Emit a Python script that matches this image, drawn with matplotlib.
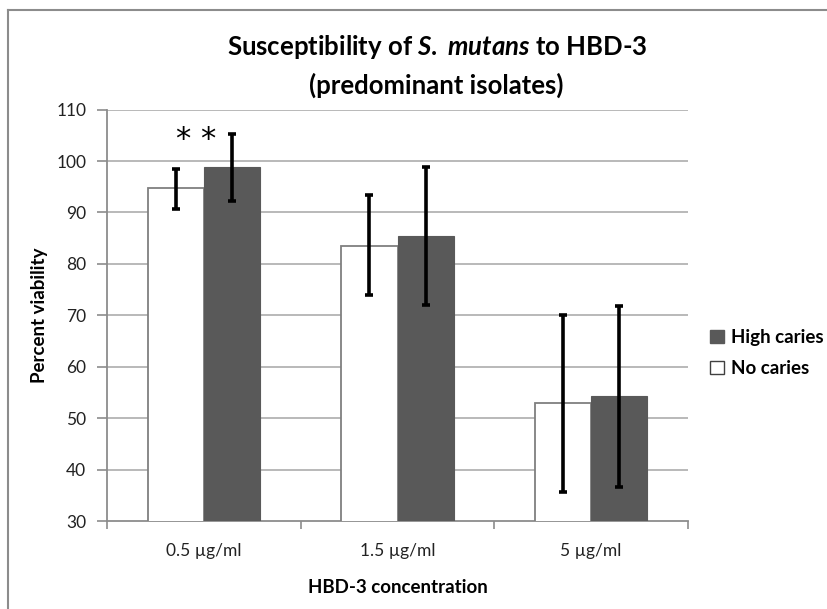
import matplotlib
matplotlib.use("Agg")
import matplotlib.pyplot as plt
import numpy as np
from matplotlib.lines import Line2D
from matplotlib.patches import Patch

categories = ["0.5 µg/ml", "1.5 µg/ml", "5 µg/ml"]
no_caries = [94.7, 83.5, 52.9]
no_caries_lo = [90.7, 73.9, 35.7]
no_caries_hi = [98.4, 93.3, 70.1]
high_caries = [98.9, 85.5, 54.4]
high_caries_lo = [92.2, 72.0, 36.6]
high_caries_hi = [105.3, 98.8, 71.8]
yticks = [30, 40, 50, 60, 70, 80, 90, 100, 110]

plt.rcParams['font.family'] = ['Lato', 'DejaVu Sans']
plt.rcParams['mathtext.fontset'] = 'custom'
plt.rcParams['mathtext.rm'] = 'Lato:bold'
plt.rcParams['mathtext.it'] = 'Lato:italic:bold'
plt.rcParams['mathtext.bf'] = 'Lato:bold'

fig = plt.figure(figsize=(8.27, 6.09), dpi=100)
ax = fig.add_axes([107/827, 1-521/609, (688-107)/827, (521-109.6)/609])

x = np.arange(len(categories))
w = 0.29
dark = '#595959'
edge = '#7f7f7f'

nc = np.array(no_caries); hc = np.array(high_caries)
err_nc = [nc - np.array(no_caries_lo), np.array(no_caries_hi) - nc]
err_hc = [hc - np.array(high_caries_lo), np.array(high_caries_hi) - hc]

ax.bar(x - w/2, nc, width=w, color='white', edgecolor=edge, linewidth=1.3, zorder=3)
ax.bar(x + w/2, hc, width=w, color=dark, edgecolor=dark, linewidth=0.8, zorder=3)
ax.errorbar(x - w/2, nc, yerr=err_nc, fmt='none', ecolor='black', elinewidth=2.6, capsize=3, capthick=2.6, zorder=4)
ax.errorbar(x + w/2, hc, yerr=err_hc, fmt='none', ecolor='black', elinewidth=2.6, capsize=3, capthick=2.6, zorder=4)

ax.text(x[0] - 0.04, 104.2, "* *", ha='center', va='center', fontsize=22, family='DejaVu Sans', zorder=5)

ax.set_ylim(30, 110)
ax.set_xlim(-0.5, 2.5)
ax.set_yticks(yticks)
ax.set_yticklabels([str(v) for v in yticks], fontsize=12.5, color='#222222')
for v in yticks[1:]:
    ax.axhline(v, color='#b3b3b3', linewidth=1.3, zorder=1)

ax.set_xticks(x)
ax.set_xticklabels(categories, fontsize=12.5, color='#222222')
ax.tick_params(axis='x', which='major', length=0, pad=16)
ax.set_xticks([-0.5, 0.5, 1.5, 2.5], minor=True)
ax.tick_params(axis='x', which='minor', length=6, color='#8c8c8c', width=1.2)
ax.tick_params(axis='y', length=7, color='#8c8c8c', width=1.2, pad=8)

for s in ['top', 'right']:
    ax.spines[s].set_visible(False)
for s in ['left', 'bottom']:
    ax.spines[s].set_color('#8c8c8c')
    ax.spines[s].set_linewidth(1.3)
    ax.spines[s].set_zorder(2)

ax.set_ylabel("Percent viability", fontsize=13.5, fontweight='bold', labelpad=6)
ax.set_xlabel("HBD-3 concentration", fontsize=13.5, fontweight='bold', labelpad=14)

fig.text(0.529, 1-47/609, "Susceptibility of $\\mathit{S.}$ $\\mathit{mutans}$ to HBD-3", ha='center', va='center', fontsize=18.5, fontweight='bold')
fig.text(0.527, 1-85/609, "(predominant isolates)", ha='center', va='center', fontsize=18.5, fontweight='bold')

handles = [Patch(facecolor=dark, edgecolor=dark, label='High caries'),
           Patch(facecolor='white', edgecolor='#404040', label='No caries')]
leg = fig.legend(handles=handles, loc='center left', bbox_to_anchor=(693/827, 1-353/609), frameon=False,
                 prop={'weight': 'bold', 'size': 13.5}, handlelength=0.75, handleheight=0.75, handletextpad=0.4,
                 labelspacing=0.75)

fig.add_artist(Line2D([8/827, 8/827], [0, 1-10/609], color='#8c8c8c', linewidth=1.5))
fig.add_artist(Line2D([8/827, 1], [1-10/609, 1-10/609], color='#8c8c8c', linewidth=1.5))

fig.savefig("out.png", dpi=100)
